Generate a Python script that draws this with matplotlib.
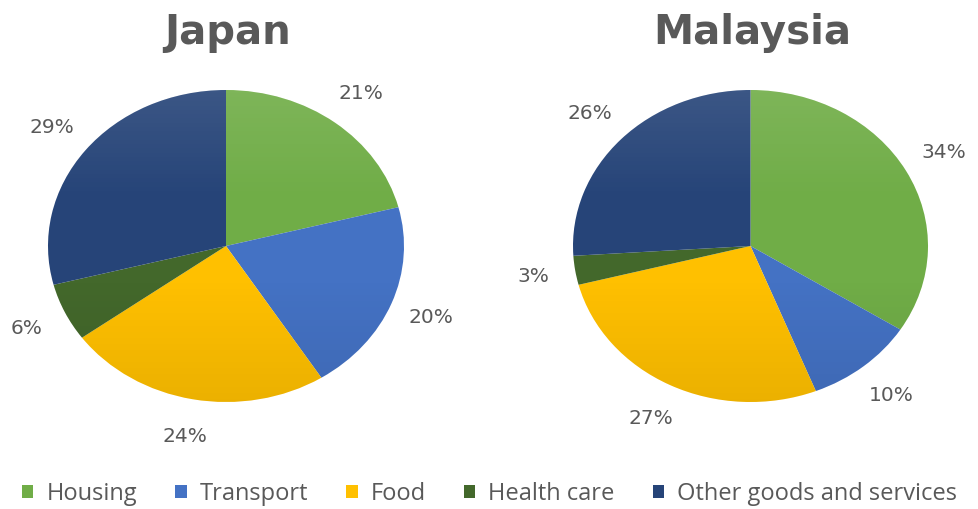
import matplotlib.pyplot as plt
import numpy as np
from matplotlib.patches import Circle

categories = ['Housing', 'Transport', 'Food', 'Health care', 'Other goods and services']
japan = [21, 20, 24, 6, 29]
malaysia = [34, 10, 27, 3, 26]
colors = ['#70AD47', '#4472C4', '#FFC000', '#43682B', '#264478']
grey = '#595959'

fig = plt.figure(figsize=(9.79, 5.09), dpi=100)
W, H = 979., 509.


def draw_pie(box, values, title):
    x0, y0, x1, y1 = box
    ax = fig.add_axes([x0 / W, 1 - y1 / H, (x1 - x0) / W, (y1 - y0) / H])
    wedges, texts = ax.pie(values, colors=colors, startangle=90, counterclock=False,
                           labels=['%d%%' % v for v in values], labeldistance=1.24,
                           wedgeprops=dict(linewidth=0),
                           textprops=dict(color=grey, fontsize=14.5, family='DejaVu Sans'))
    for t in texts:
        t.set_ha('center')
        t.set_va('center')
    ax.set_aspect('auto')
    ax.axis('off')
    # soft vertical shading like the original
    t = np.linspace(0, 1, 200)[:, None] * np.ones((1, 2))
    top = np.clip(0.35 - t, 0, None) / 0.35
    bot = np.clip(t - 0.6, 0, None) / 0.4
    g = np.zeros((200, 2, 4))
    for c in range(3):
        g[..., c] = np.where(top > 0, 1.0, 0.0)
    g[..., 3] = top * 0.10 + bot * 0.08
    im = ax.imshow(g, extent=(-1, 1, -1, 1), aspect='auto', zorder=3)
    im.set_clip_path(Circle((0, 0), 1, transform=ax.transData))
    ax.set_xlim(-1, 1)
    ax.set_ylim(-1, 1)
    fig.text((x0 + x1) / 2 / W + 2 / W, 1 - 33 / H, title, ha='center', va='center',
             fontsize=29, fontweight='bold', color=grey, family='DejaVu Sans')
    return wedges


wedges = draw_pie((48, 90, 404, 402), japan, 'Japan')
draw_pie((573, 90, 928, 402), malaysia, 'Malaysia')

fig.legend(wedges, categories, loc='center', bbox_to_anchor=(0.5, 1 - 494 / H), ncol=5,
           frameon=False, handlelength=0.5, handleheight=0.5, handletextpad=0.55,
           columnspacing=1.6, prop=dict(family='Open Sans', size=17), labelcolor=grey)

fig.savefig('out.png', dpi=100, facecolor='white')
